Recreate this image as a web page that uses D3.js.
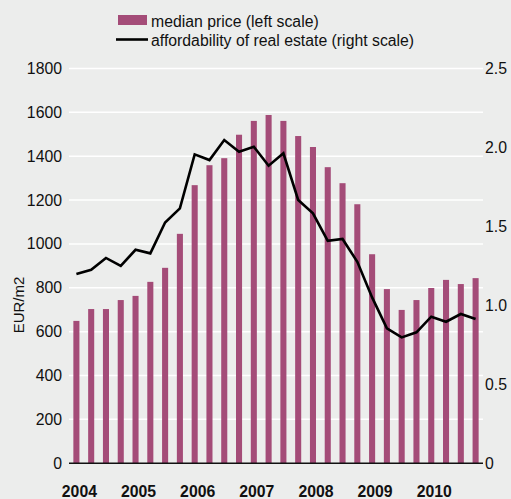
<!DOCTYPE html>
<html><head><meta charset="utf-8">
<script src="https://cdn.jsdelivr.net/npm/d3@7"></script>
<style>
html,body{margin:0;padding:0;background:#ecedec;}
svg{display:block;font-family:"Liberation Sans",Arial,Helvetica,sans-serif;}
</style></head>
<body>
<svg id="chart" width="511" height="499"></svg>
<script>
const quarters = ["2004Q1","2004Q2","2004Q3","2004Q4","2005Q1","2005Q2","2005Q3","2005Q4",
  "2006Q1","2006Q2","2006Q3","2006Q4","2007Q1","2007Q2","2007Q3","2007Q4",
  "2008Q1","2008Q2","2008Q3","2008Q4","2009Q1","2009Q2","2009Q3","2009Q4",
  "2010Q1","2010Q2","2010Q3","2010Q4"];
const medianPrice = [649,703,703,744,763,827,891,1046,1268,1359,1391,1498,1561,1588,1561,1492,
  1442,1350,1277,1181,953,794,699,744,799,836,817,844];
const affordability = [1.198,1.225,1.30,1.25,1.352,1.329,1.525,1.614,1.956,1.92,2.047,1.973,2.004,1.884,
  1.963,1.667,1.583,1.409,1.42,1.276,1.05,0.854,0.797,0.829,0.928,0.896,0.945,0.913];
const yearLabels = ["2004","2005","2006","2007","2008","2009","2010"];
const leftTicks = [0,200,400,600,800,1000,1200,1400,1600,1800];
const rightTicks = [0,0.5,1.0,1.5,2.0,2.5];
const legendLabels = ["median price (left scale)","affordability of real estate (right scale)"];

const barColor = "#a44c78";
const fs = 15.8;
const svg = d3.select("#chart");
const x0 = 69, x1 = 483, yTop = 68.5, yBottom = 463.2;

const x = d3.scaleBand().domain(quarters).range([x0, x1]).paddingInner(0.59).paddingOuter(0.295);
const yL = d3.scaleLinear().domain([0,1800]).range([yBottom, yTop]);
const yR = d3.scaleLinear().domain([0,2.5]).range([yBottom, yTop]);
const cx = q => x(q) + x.bandwidth()/2;

// gridlines
svg.append("g").selectAll("line").data(leftTicks.filter(d=>d>0)).join("line")
  .attr("x1", x0).attr("x2", x1).attr("y1", d=>yL(d)).attr("y2", d=>yL(d))
  .attr("stroke", "#ffffff").attr("stroke-width", 1.5);

// left axis
const leftAxis = d3.axisLeft(yL).tickValues(leftTicks).tickSize(0).tickPadding(7).tickFormat(d3.format("d"));
const gL = svg.append("g").attr("transform", `translate(${x0},0)`).call(leftAxis);
gL.select(".domain").remove();
gL.selectAll("text").attr("font-size", fs).attr("fill", "#111").attr("font-family", "Liberation Sans, Arial, sans-serif");

// right axis
const rightAxis = d3.axisRight(yR).tickValues(rightTicks).tickSize(0).tickPadding(2)
  .tickFormat(d => d === 0 ? "0" : d3.format(".1f")(d));
const gR = svg.append("g").attr("transform", `translate(${x1},0)`).call(rightAxis);
gR.select(".domain").remove();
gR.selectAll("text").attr("font-size", fs).attr("fill", "#111").attr("font-family", "Liberation Sans, Arial, sans-serif");

// bars
svg.append("g").selectAll("rect").data(quarters).join("rect")
  .attr("x", q => x(q)).attr("width", x.bandwidth())
  .attr("y", (q,i) => yL(medianPrice[i])).attr("height", (q,i) => yL(0) - yL(medianPrice[i]))
  .attr("fill", barColor);

// zero axis line
svg.append("line").attr("x1", x0).attr("x2", x1).attr("y1", yL(0)).attr("y2", yL(0))
  .attr("stroke", "#111").attr("stroke-width", 1.5);

// line
const line = d3.line().x((d,i) => cx(quarters[i])).y(d => yR(d));
svg.append("path").datum(affordability).attr("d", line)
  .attr("fill", "none").attr("stroke", "#000").attr("stroke-width", 2.6).attr("stroke-linejoin", "miter");

// year labels
svg.append("g").selectAll("text").data(yearLabels).join("text")
  .attr("x", d => cx(d + "Q1") + 3).attr("y", 497)
  .attr("text-anchor", "middle").attr("font-size", fs).attr("font-weight", "bold").attr("fill", "#111")
  .text(d => d);

// y title
svg.append("text").attr("transform", "translate(24,305) rotate(-90)")
  .attr("text-anchor", "middle").attr("font-size", 15).attr("fill", "#111").text("EUR/m2");

// legend
const lg = svg.append("g");
lg.append("rect").attr("x", 118).attr("y", 15).attr("width", 29).attr("height", 10).attr("fill", barColor);
lg.append("line").attr("x1", 116).attr("x2", 148).attr("y1", 39.5).attr("y2", 39.5).attr("stroke", "#000").attr("stroke-width", 2.6);
lg.selectAll("text").data(legendLabels).join("text")
  .attr("x", 151).attr("y", (d,i) => i === 0 ? 27 : 46)
  .attr("font-size", fs).attr("fill", "#111").text(d => d);
</script>
</body></html>
